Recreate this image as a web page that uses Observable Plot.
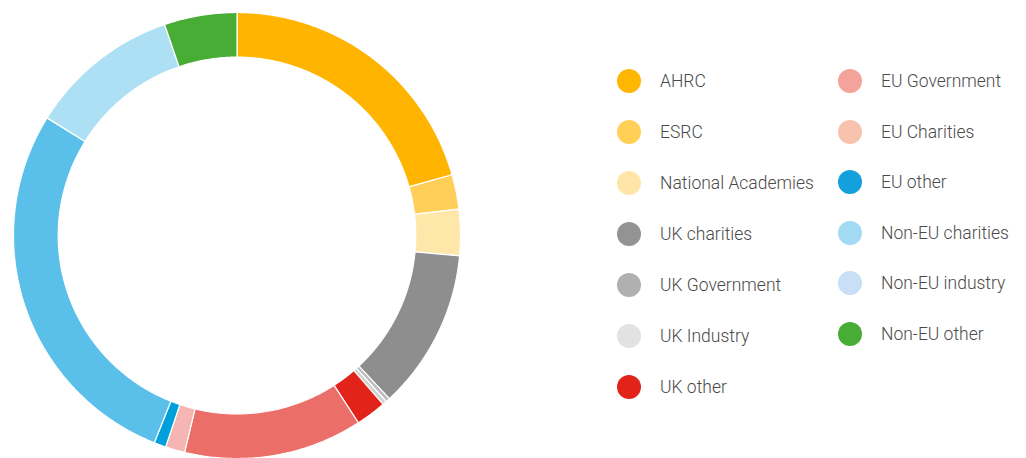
<!DOCTYPE html>
<html>
<head>
<meta charset="utf-8">
<script src="https://cdn.jsdelivr.net/npm/d3@7"></script>
<script src="https://cdn.jsdelivr.net/npm/@observablehq/plot@0.6"></script>
<style>
  html, body { margin: 0; padding: 0; background: #fff; }
  #wrap { position: relative; width: 1026px; height: 458px; overflow: hidden; }
  #legend { position: absolute; left: 0; top: 0; width: 1026px; height: 458px; pointer-events: none;
            font-family: Roboto, "Open Sans", sans-serif; font-size: 17.5px; font-weight: 300; color: #4a4a4a; }
  .item { position: absolute; display: flex; align-items: center; white-space: nowrap; }
  .sw { width: 24px; height: 24px; border-radius: 50%; margin-right: 19px; flex: none; }
</style>
</head>
<body>
<div id="wrap"><div id="chart"></div><div id="legend"></div></div>
<script>
const categories = ["AHRC", "ESRC", "National Academies", "UK charities", "UK Government", "UK Industry", "UK other",
  "EU Government", "EU Charities", "EU other", "Non-EU charities", "Non-EU industry", "Non-EU other"];
const shares = [20.6, 2.5, 3.35, 11.6, 0.3, 0.3, 2.2, 12.9, 1.4, 0.86, 27.8, 10.9, 5.25];
const sliceColors = ["#ffb500", "#ffcf5a", "#ffe6a9", "#8e8e8e", "#bdbdbd", "#d2d2d2", "#e2231a",
  "#eb6e69", "#f4b5b3", "#00a0dc", "#5ac0ea", "#ade0f4", "#48ad35"];
const legendColors = ["#ffb600", "#ffcf56", "#ffe6a8", "#939393", "#b0b0b0", "#e2e2e2", "#e2231a",
  "#f4a39b", "#f8c3ae", "#13a0dc", "#a2d9f3", "#c8dff5", "#48ad35"];

const innerRatio = 0.8;
const data = categories.map((name, i) => ({name, value: shares[i]}));
const arcs = d3.pie().sort(null).value(d => d.value)(data);

// Build each slice outline (outer arc then inner arc back) from the pie angles.
const pts = [];
const stepA = Math.PI / 360;
for (const a of arcs) {
  const name = a.data.name;
  const n = Math.max(2, Math.ceil((a.endAngle - a.startAngle) / stepA));
  const ring = [];
  for (let k = 0; k <= n; k++) {
    const t = a.startAngle + (a.endAngle - a.startAngle) * k / n;
    ring.push({name, x: Math.sin(t), y: Math.cos(t)});
  }
  for (let k = n; k >= 0; k--) {
    const t = a.startAngle + (a.endAngle - a.startAngle) * k / n;
    ring.push({name, x: innerRatio * Math.sin(t), y: innerRatio * Math.cos(t)});
  }
  ring.push({...ring[0]});
  pts.push(...ring);
}

const chart = Plot.plot({
  width: 1026,
  height: 458,
  marginLeft: 13,
  marginRight: 566,
  marginTop: 12,
  marginBottom: 0,
  x: {domain: [-1, 1], axis: null},
  y: {domain: [-1, 1], axis: null},
  color: {domain: categories, range: sliceColors},
  style: {overflow: "visible", background: "transparent"},
  marks: [
    Plot.line(pts, {x: "x", y: "y", z: "name", fill: "name", stroke: "white", strokeWidth: 1.2, strokeLinejoin: "miter"})
  ]
});
document.getElementById("chart").appendChild(chart);

// Legend
const legend = document.getElementById("legend");
const leftCount = 7;
categories.forEach((name, i) => {
  const col = i < leftCount ? 0 : 1;
  const row = col === 0 ? i : i - leftCount;
  const cx = col === 0 ? 629 : 850;
  const cy = col === 0 ? 81 + row * 51 : 81 + row * 50.6;
  const div = document.createElement("div");
  div.className = "item";
  div.style.left = (cx - 12) + "px";
  div.style.top = (cy - 12) + "px";
  div.style.height = "24px";
  const sw = document.createElement("span");
  sw.className = "sw";
  sw.style.background = legendColors[i];
  const lab = document.createElement("span");
  lab.textContent = name;
  div.appendChild(sw);
  div.appendChild(lab);
  legend.appendChild(div);
});
</script>
</body>
</html>
